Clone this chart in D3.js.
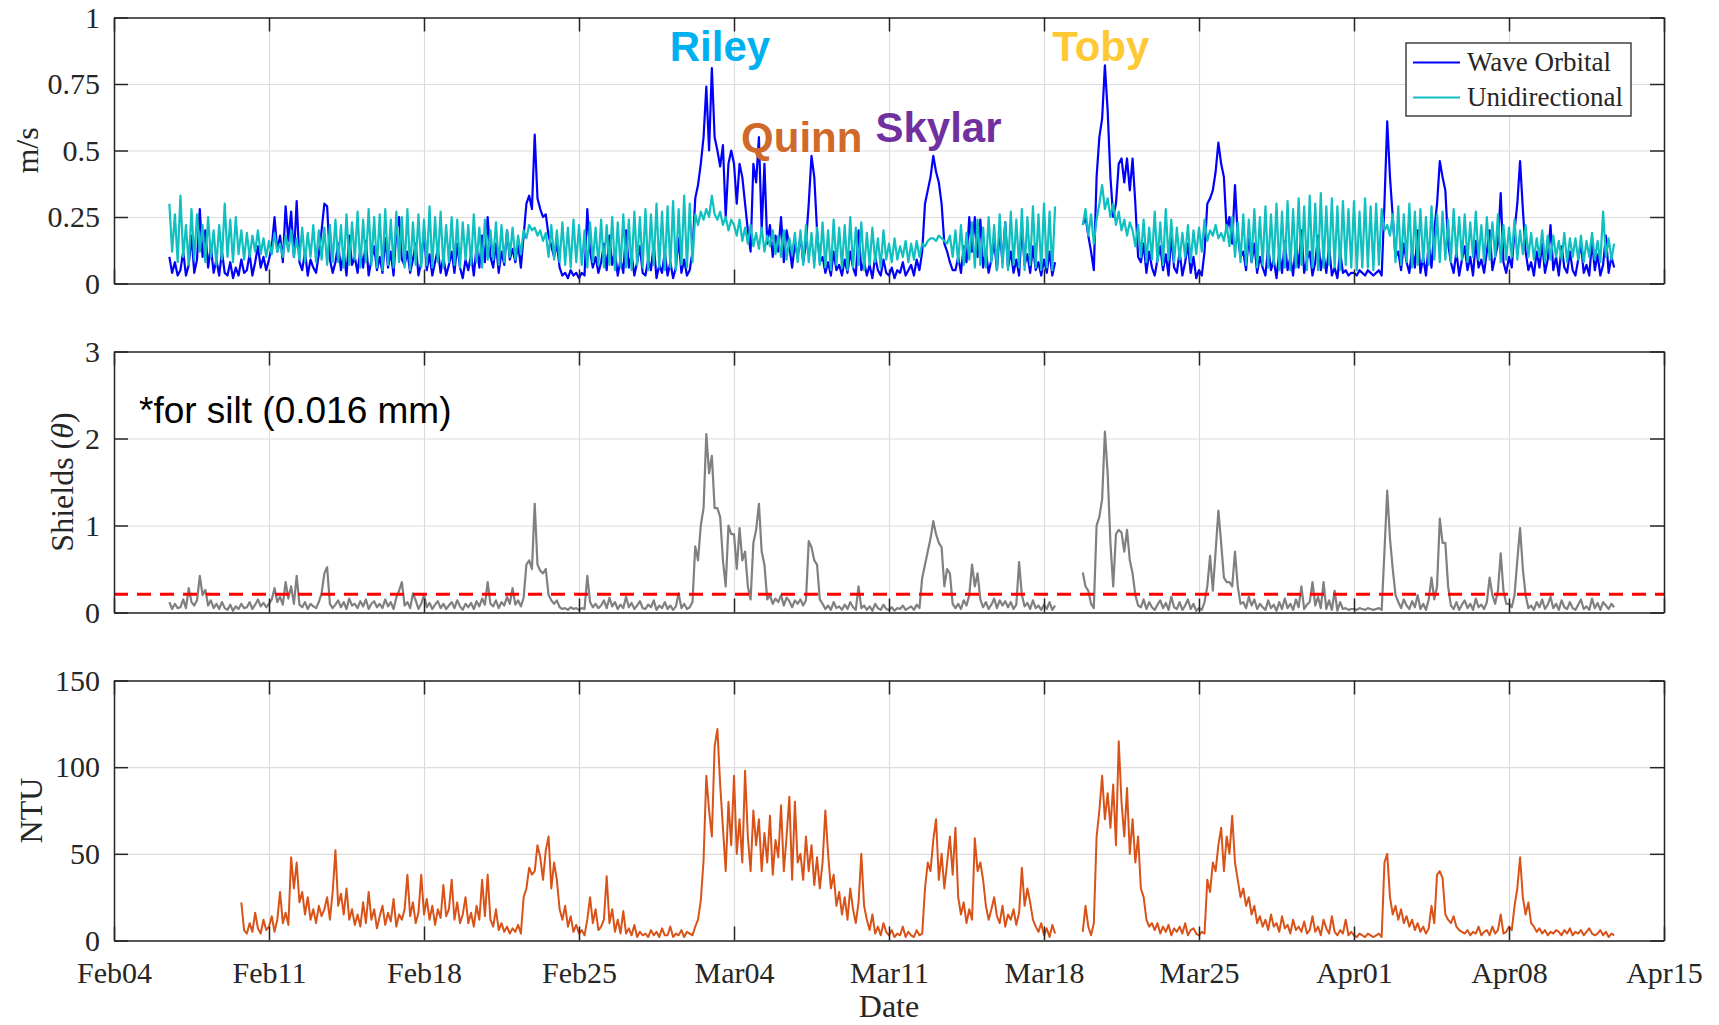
<!DOCTYPE html>
<html>
<head>
<meta charset="utf-8">
<script src="https://cdn.jsdelivr.net/npm/d3@7"></script>
<style>
  body { margin: 0; background: #fff; }
  svg text { font-family: "Liberation Serif", "Times New Roman", serif; fill: #262626; }
</style>
</head>
<body>
<script>
// ---------------- data ----------------
// all velocity / Shields series: 3-hourly samples, first one at Feb06 12:00 (2018)
// turbidity: 3-hourly samples, first one at Feb09 18:00
// one row per day, null = logger gap

// wave orbital velocity, cm/s
const waveOrbital = [
  10,4,8,3,
  5,12,3,7,18,4,9,28,
  10,20,6,14,4,9,3,12,
  4,3,8,2,6,3,9,4,
  5,11,3,8,14,6,10,5,
  9,14,25,12,18,8,29,16,
  27,10,31,8,5,12,3,9,
  6,4,11,20,30,29,9,4,
  8,15,5,12,3,18,7,10,
  4,13,6,16,3,9,14,5,
  10,4,17,6,12,3,20,25,
  9,7,12,4,9,15,3,8,
  20,5,11,3,8,13,4,10,
  3,7,12,4,15,6,2,9,
  5,11,3,14,6,18,8,25,
  10,6,15,4,12,7,20,9,
  13,8,15,6,18,30,33,28,
  56,32,28,25,26,18,14,10,
  15,6,3,4,2,5,3,4,
  2,4,3,28,12,6,10,4,
  8,15,5,18,7,12,3,9,
  4,20,6,11,3,8,14,4,
  3,9,5,15,2,7,4,12,
  3,8,2,6,17,4,9,3,
  5,12,32,37,45,55,74,50,
  81,55,50,44,52,25,45,50,
  45,30,45,40,30,20,12,45,
  38,55,20,45,15,22,10,18,
  12,25,8,20,14,6,15,10,
  18,8,15,30,48,40,20,8,
  10,4,8,3,12,5,7,3,
  9,4,12,6,3,20,5,8,
  3,7,2,10,5,3,9,4,
  3,6,2,5,4,8,3,5,
  7,3,9,5,12,30,35,40,
  48,42,38,30,15,12,8,5,
  5,10,4,14,8,25,12,25,
  10,24,6,12,4,9,16,5,
  20,8,23,6,12,4,9,3,
  22,7,11,4,14,5,8,3,
  9,4,12,3,8,null,null,null,
  null,null,null,null,null,null,22,25,
  18,12,5,40,55,62,82,65,
  40,25,30,45,47,38,47,35,
  47,30,10,8,15,4,12,6,
  3,9,14,5,11,3,18,6,
  4,12,3,8,15,4,10,2,
  5,3,12,30,32,35,42,53,
  45,40,20,25,15,37,18,10,
  12,5,18,8,15,4,10,6,
  3,14,5,9,2,12,4,16,
  5,10,3,15,6,20,4,9,
  12,3,8,18,5,11,4,14,
  3,6,2,12,4,5,3,4,
  4,3,5,4,3,5,4,3,
  4,5,3,30,61,40,25,10,
  12,5,15,8,4,13,6,20,
  4,10,3,15,6,20,30,46,
  40,35,15,8,4,12,3,9,
  14,5,10,3,16,6,9,4,
  12,20,5,10,15,34,8,4,
  10,6,20,30,46,28,12,5,
  8,3,12,6,15,4,9,22,
  5,10,3,14,6,4,12,5,
  3,9,15,4,7,3,16,5,
  11,3,7,18,4,10,6
];

// unidirectional (current) velocity, cm/s
const unidirectional = [
  30,12,26,8,
  33,10,22,7,28,9,26,12,
  22,8,25,10,20,7,22,9,
  30,10,24,8,25,11,20,9,
  19,10,18,12,20,11,17,10,
  16,11,19,12,15,10,18,12,
  20,10,17,9,21,8,19,10,
  22,8,20,9,21,7,22,8,
  24,8,22,6,26,7,23,9,
  27,6,24,8,28,7,25,6,
  26,5,28,7,24,6,27,8,
  25,6,28,5,23,7,26,6,
  24,7,29,6,25,8,27,6,
  22,8,25,7,24,6,23,9,
  22,7,26,8,21,6,24,9,
  20,9,23,7,22,8,20,10,
  21,9,18,11,20,17,22,20,
  21,18,20,16,19,10,22,9,
  20,8,23,7,21,6,24,8,
  22,7,20,6,23,8,21,7,
  24,6,22,7,25,5,23,6,
  26,6,24,5,27,7,25,6,
  28,5,26,7,30,6,27,5,
  29,6,31,5,28,7,33,6,
  30,8,26,22,27,24,28,25,
  33,26,24,27,22,25,20,24,
  22,18,24,16,21,15,22,14,
  19,13,21,12,18,14,20,11,
  18,10,20,9,17,11,19,8,
  20,7,22,8,19,6,21,7,
  23,6,20,5,24,7,21,6,
  22,5,25,6,21,7,23,5,
  19,7,21,8,17,6,20,9,
  15,8,17,9,14,10,16,8,
  15,9,16,10,15,14,16,17,
  17,16,18,17,16,15,18,10,
  20,8,22,7,19,9,23,6,
  24,7,21,6,25,8,22,5,
  26,6,23,5,27,7,24,6,
  28,5,25,7,29,6,26,5,
  30,6,27,5,29,null,null,null,
  null,null,null,null,null,null,22,28,
  18,26,15,24,30,37,28,32,
  25,30,22,27,20,24,18,23,
  20,14,22,10,24,8,21,9,
  27,8,23,7,28,9,24,8,
  21,9,19,10,22,8,20,11,
  21,12,24,16,20,18,22,17,
  19,16,22,14,25,10,23,8,
  26,7,24,8,28,6,25,7,
  29,6,26,7,30,5,27,6,
  31,5,28,6,32,7,29,5,
  33,6,30,5,34,6,29,7,
  32,6,29,5,31,7,28,6,
  31,5,27,6,32,6,29,5,
  30,7,28,20,22,18,26,8,
  29,7,26,8,30,6,27,7,
  28,8,25,7,29,9,26,8,
  27,9,24,8,28,10,25,9,
  26,8,23,10,27,9,22,8,
  25,9,23,10,26,8,22,9,
  21,10,24,9,20,11,22,10,
  19,9,17,10,20,8,18,9,
  18,10,16,9,19,8,17,10,
  17,9,18,8,16,10,19,9,
  16,8,27,10,17,9,15
];

// Shields parameter (theta), silt 0.016 mm
const shields = [
  0.12,0.04,0.10,0.05,
  0.06,0.15,0.05,0.28,0.12,0.08,0.14,0.42,
  0.20,0.26,0.08,0.14,0.05,0.10,0.04,0.12,
  0.05,0.03,0.09,0.02,0.07,0.04,0.10,0.05,
  0.06,0.12,0.04,0.09,0.15,0.07,0.11,0.06,
  0.10,0.15,0.28,0.12,0.18,0.09,0.35,0.16,
  0.30,0.10,0.42,0.09,0.06,0.12,0.04,0.10,
  0.07,0.05,0.12,0.22,0.45,0.52,0.10,0.05,
  0.09,0.14,0.06,0.12,0.04,0.16,0.08,0.10,
  0.05,0.13,0.07,0.15,0.04,0.10,0.13,0.06,
  0.10,0.05,0.15,0.07,0.12,0.04,0.17,0.25,
  0.35,0.08,0.12,0.05,0.22,0.14,0.04,0.10,
  0.20,0.06,0.11,0.04,0.09,0.13,0.05,0.10,
  0.04,0.08,0.12,0.05,0.14,0.07,0.03,0.10,
  0.06,0.11,0.04,0.13,0.07,0.16,0.09,0.35,
  0.10,0.07,0.14,0.05,0.12,0.08,0.18,0.10,
  0.28,0.09,0.14,0.07,0.17,0.55,0.60,0.50,
  1.25,0.55,0.48,0.45,0.50,0.20,0.14,0.10,
  0.14,0.06,0.04,0.05,0.03,0.06,0.04,0.05,
  0.03,0.05,0.04,0.42,0.12,0.06,0.10,0.05,
  0.08,0.14,0.05,0.17,0.07,0.12,0.04,0.09,
  0.05,0.18,0.06,0.11,0.04,0.08,0.13,0.05,
  0.04,0.09,0.06,0.14,0.03,0.08,0.05,0.12,
  0.04,0.08,0.03,0.07,0.22,0.05,0.10,0.04,
  0.06,0.12,0.76,0.60,1.00,1.20,2.05,1.60,
  1.80,1.20,1.20,1.10,0.60,0.30,1.00,0.90,
  0.90,0.50,0.97,0.60,0.70,0.30,0.15,0.80,
  0.95,1.25,0.70,0.55,0.15,0.20,0.10,0.16,
  0.12,0.20,0.08,0.17,0.13,0.06,0.14,0.10,
  0.15,0.08,0.14,0.82,0.75,0.60,0.55,0.15,
  0.10,0.04,0.08,0.03,0.12,0.05,0.07,0.03,
  0.09,0.04,0.12,0.06,0.03,0.30,0.05,0.08,
  0.03,0.07,0.02,0.10,0.05,0.03,0.09,0.04,
  0.03,0.06,0.02,0.05,0.04,0.08,0.03,0.05,
  0.07,0.03,0.09,0.05,0.40,0.55,0.70,0.85,
  1.05,0.90,0.80,0.75,0.30,0.50,0.45,0.10,
  0.05,0.10,0.04,0.14,0.08,0.20,0.55,0.30,
  0.45,0.15,0.06,0.12,0.04,0.09,0.16,0.05,
  0.14,0.08,0.13,0.06,0.12,0.04,0.09,0.58,
  0.20,0.07,0.11,0.04,0.14,0.05,0.08,0.03,
  0.09,0.04,0.12,0.03,0.08,null,null,null,
  null,null,null,null,null,null,0.46,0.30,
  0.25,0.10,0.05,1.00,1.10,1.30,2.08,1.60,
  0.80,0.30,0.90,0.95,0.92,0.70,0.95,0.60,
  0.45,0.20,0.08,0.06,0.15,0.04,0.12,0.06,
  0.03,0.09,0.14,0.05,0.11,0.03,0.18,0.06,
  0.04,0.12,0.03,0.08,0.15,0.04,0.10,0.02,
  0.05,0.03,0.12,0.30,0.65,0.25,0.70,1.17,
  0.80,0.40,0.35,0.35,0.30,0.70,0.30,0.10,
  0.12,0.05,0.18,0.08,0.15,0.04,0.10,0.06,
  0.03,0.14,0.05,0.09,0.02,0.12,0.04,0.16,
  0.05,0.10,0.03,0.15,0.06,0.30,0.04,0.09,
  0.12,0.35,0.08,0.18,0.05,0.35,0.04,0.14,
  0.03,0.25,0.02,0.12,0.04,0.05,0.03,0.04,
  0.04,0.03,0.05,0.04,0.03,0.05,0.04,0.03,
  0.04,0.05,0.03,0.70,1.40,0.85,0.50,0.20,
  0.12,0.05,0.15,0.08,0.04,0.13,0.06,0.20,
  0.04,0.10,0.03,0.15,0.40,0.15,0.30,1.08,
  0.80,0.80,0.30,0.08,0.04,0.12,0.03,0.09,
  0.14,0.05,0.10,0.03,0.16,0.06,0.09,0.04,
  0.12,0.40,0.20,0.10,0.25,0.68,0.25,0.10,
  0.10,0.06,0.20,0.60,0.97,0.50,0.20,0.05,
  0.08,0.03,0.12,0.06,0.15,0.04,0.09,0.18,
  0.05,0.10,0.03,0.14,0.06,0.04,0.12,0.05,
  0.03,0.09,0.15,0.04,0.07,0.03,0.16,0.05,
  0.11,0.03,0.12,0.08,0.04,0.10,0.06
];

// turbidity, NTU
const turbidity = [
  22,6,
  4,10,5,16,7,4,12,6,
  8,14,5,12,28,10,16,9,
  48,30,45,22,28,15,25,12,
  18,10,20,14,18,25,12,28,
  52,20,27,15,30,12,18,9,
  15,8,22,10,28,12,18,7,
  14,20,9,16,11,24,8,15,
  12,18,38,14,22,10,16,38,
  15,24,12,20,9,18,13,32,
  14,18,35,12,22,10,15,25,
  10,16,8,20,12,35,14,38,
  12,8,18,6,10,5,8,4,
  7,5,9,4,25,30,42,38,
  40,55,48,35,52,60,30,45,
  35,18,12,20,8,14,5,9,
  4,6,3,12,25,10,18,6,
  8,12,37,10,18,5,12,4,
  17,4,7,3,9,2,5,3,
  4,2,6,3,5,2,7,3,
  3,8,2,4,3,6,2,5,
  4,3,8,12,23,46,95,75,
  60,112,122,90,65,40,80,55,
  95,50,70,45,98,60,40,75,
  55,70,40,62,45,72,38,58,
  48,78,40,60,83,35,80,45,
  50,35,60,40,55,32,48,30,
  45,75,50,30,38,20,28,15,
  25,12,30,18,10,22,50,20,
  12,6,15,4,8,3,10,5,
  3,6,2,4,3,8,2,5,
  3,2,6,3,4,30,45,40,
  58,70,35,50,30,45,60,38,
  65,25,15,22,10,18,12,59,
  40,45,35,20,12,18,25,14,
  10,20,8,15,12,18,9,16,
  42,20,30,22,12,8,5,10,
  3,7,2,9,4,null,null,null,
  null,null,null,null,null,null,5,20,
  8,3,10,60,75,95,70,85,
  65,90,55,115,80,60,88,50,
  70,45,60,30,25,12,8,10,
  6,10,4,8,5,9,3,7,
  5,8,4,10,3,6,7,4,
  3,5,4,35,28,45,40,55,
  65,40,60,50,72,45,35,25,
  30,20,25,15,20,10,14,8,
  12,6,15,8,10,5,14,7,
  9,4,12,6,8,5,11,4,
  6,14,5,8,3,12,7,4,
  14,5,3,6,4,12,3,5,
  3,2,4,3,2,4,3,2,
  3,4,2,45,50,25,15,20,
  12,18,10,14,8,12,6,10,
  5,8,4,7,20,10,38,40,
  36,15,12,10,14,8,6,5,
  4,6,3,5,4,8,3,5,
  6,3,8,4,6,15,4,5,
  8,6,20,30,48,25,15,22,
  10,8,5,7,4,6,3,5,
  4,6,5,3,6,4,7,3,
  5,4,6,3,5,7,4,3,
  4,6,3,5,2,4,3
];

const tickDates = ["2018-02-04", "2018-02-11", "2018-02-18", "2018-02-25", "2018-03-04", "2018-03-11",
                   "2018-03-18", "2018-03-25", "2018-04-01", "2018-04-08", "2018-04-15"];
const speedTicks = [0, 0.25, 0.5, 0.75, 1];
const shieldsTicks = [0, 1, 2, 3];
const ntuTicks = [0, 50, 100, 150];
const shieldsThreshold = 0.21;

// storm names, anchored at (date, m/s) on the top panel
const storms = [
  { name: "Riley",  date: "2018-03-01T02:20Z", level: 0.836 },
  { name: "Quinn",  date: "2018-03-04T07:40Z", level: 0.494 },
  { name: "Skylar", date: "2018-03-10T09:20Z", level: 0.533 },
  { name: "Toby",   date: "2018-03-18T08:50Z", level: 0.836 }
];
const stormColors = { Riley: "#00B0F0", Quinn: "#CF6A2B", Skylar: "#7030A0", Toby: "#FFC935" };

// ---------------- layout ----------------
const W = 1719, H = 1025;
const plotLeft = 114, plotRight = 1664;
const panels = {
  speed:   { top: 17.5,  bottom: 283.5 },
  shields: { top: 351.5, bottom: 612.5 },
  ntu:     { top: 680.5, bottom: 940.5 }
};
const STEP = 3 * 3600 * 1000;
const speedStart = Date.UTC(2018, 1, 6, 12);
const ntuStart = Date.UTC(2018, 1, 9, 18);

const svg = d3.select("body").append("svg")
  .attr("width", W)
  .attr("height", H);

const x = d3.scaleUtc()
  .domain([new Date(tickDates[0]), new Date(tickDates[tickDates.length - 1])])
  .range([plotLeft, plotRight]);

const ticksX = tickDates.map(d => new Date(d));

function toPoints(values, start, scale) {
  return values.map((v, i) => ({ t: new Date(start + i * STEP), v: v == null ? null : v * scale }));
}

function drawPanel(p, yDomain, yTicks, label) {
  const h = p.bottom - p.top;
  const y = d3.scaleLinear().domain(yDomain).range([p.bottom, p.top]);
  const g = svg.append("g");

  // grid
  g.append("g")
    .attr("transform", `translate(0,${p.bottom})`)
    .call(d3.axisBottom(x).tickValues(ticksX).tickSize(-h).tickFormat(""))
    .call(s => s.select(".domain").remove())
    .selectAll("line").attr("stroke", "#dcdcdc").attr("stroke-width", 1.2);
  g.append("g")
    .attr("transform", `translate(${plotLeft},0)`)
    .call(d3.axisLeft(y).tickValues(yTicks).tickSize(-(plotRight - plotLeft)).tickFormat(""))
    .call(s => s.select(".domain").remove())
    .selectAll("line").attr("stroke", "#dcdcdc").attr("stroke-width", 1.2);

  const yLabel = svg.append("text")
    .attr("transform", `translate(${label.x},${(p.top + p.bottom) / 2}) rotate(-90)`)
    .attr("text-anchor", "middle")
    .attr("dy", "0.35em")
    .style("font-size", "32px")
    .text(label.text);

  return { g, y, ticks: yTicks, label: yLabel };
}

function drawBox(panel, p, showXLabels) {
  const y = panel.y;
  const layer = svg.append("g");
  const style = s => {
    s.selectAll("line").attr("stroke", "#262626").attr("stroke-width", 1.5);
    s.select(".domain").attr("stroke", "#262626").attr("stroke-width", 1.5);
    s.selectAll("text").style("font-size", "30px").attr("fill", "#262626");
  };
  layer.append("g")
    .attr("transform", `translate(0,${p.bottom})`)
    .call(d3.axisBottom(x).tickValues(ticksX).tickSize(-14).tickSizeOuter(0).tickPadding(21)
      .tickFormat(showXLabels ? d3.utcFormat("%b%d") : ""))
    .call(style);
  layer.append("g")
    .attr("transform", `translate(0,${p.top})`)
    .call(d3.axisTop(x).tickValues(ticksX).tickSize(-14).tickSizeOuter(0).tickFormat(""))
    .call(style);
  layer.append("g")
    .attr("transform", `translate(${plotLeft},0)`)
    .call(d3.axisLeft(y).tickValues(panel.ticks).tickSize(-14).tickSizeOuter(0).tickPadding(14)
      .tickFormat(d => String(d)))
    .call(style);
  layer.append("g")
    .attr("transform", `translate(${plotRight},0)`)
    .call(d3.axisRight(y).tickValues(panel.ticks).tickSize(-14).tickSizeOuter(0).tickFormat(""))
    .call(style);
  layer.selectAll("g").attr("font-family", null);
}

function drawLine(panel, points, color, width) {
  const line = d3.line()
    .defined(d => d.v != null)
    .x(d => x(d.t))
    .y(d => panel.y(d.v));
  panel.g.append("path")
    .datum(points)
    .attr("fill", "none")
    .attr("stroke", color)
    .attr("stroke-width", width)
    .attr("stroke-linejoin", "round")
    .attr("d", line);
}

// ---- top panel: velocities ----
const speedPanel = drawPanel(panels.speed, [0, 1], speedTicks, { x: 27, text: "m/s" });
drawLine(speedPanel, toPoints(waveOrbital, speedStart, 0.01), "#0000FF", 2.2);
drawLine(speedPanel, toPoints(unidirectional, speedStart, 0.01), "#10BFBF", 2.2);
drawBox(speedPanel, panels.speed, false);

storms.forEach(s => {
  svg.append("text")
    .attr("x", x(new Date(s.date)))
    .attr("y", speedPanel.y(s.level))
    .style("font-family", "'Liberation Sans', Arial, sans-serif")
    .style("font-weight", "bold")
    .style("font-size", "42px")
    .style("fill", stormColors[s.name])
    .text(s.name);
});

// legend
const legend = svg.append("g").attr("transform", "translate(1406,43)");
legend.append("rect")
  .attr("width", 225).attr("height", 73)
  .attr("fill", "#fff").attr("stroke", "#262626").attr("stroke-width", 1.3);
[["Wave Orbital", "#0000FF"], ["Unidirectional", "#10BFBF"]].forEach(([name, color], i) => {
  legend.append("line")
    .attr("x1", 7).attr("x2", 54)
    .attr("y1", 19.5 + i * 35).attr("y2", 19.5 + i * 35)
    .attr("stroke", color).attr("stroke-width", 2);
  legend.append("text")
    .attr("x", 61).attr("y", 19.5 + i * 35).attr("dy", "0.33em")
    .style("font-size", "27px")
    .text(name);
});

// ---- middle panel: Shields ----
const shieldsPanel = drawPanel(panels.shields, [0, 3], shieldsTicks, { x: 62, text: "" });
shieldsPanel.label.text("Shields (");
shieldsPanel.label.append("tspan").style("font-style", "italic").text("θ");
shieldsPanel.label.append("tspan").text(")");
drawLine(shieldsPanel, toPoints(shields, speedStart, 1), "#808080", 2.2);
shieldsPanel.g.append("line")
  .attr("x1", plotLeft).attr("x2", plotRight)
  .attr("y1", shieldsPanel.y(shieldsThreshold)).attr("y2", shieldsPanel.y(shieldsThreshold))
  .attr("stroke", "#FF0000").attr("stroke-width", 3)
  .attr("stroke-dasharray", "14,9");
drawBox(shieldsPanel, panels.shields, false);

svg.append("text")
  .attr("x", 139).attr("y", 423)
  .style("font-family", "'Liberation Sans', Arial, sans-serif")
  .style("font-size", "37px")
  .style("fill", "#000")
  .text("*for silt (0.016 mm)");

// ---- bottom panel: turbidity ----
const ntuPanel = drawPanel(panels.ntu, [0, 150], ntuTicks, { x: 31, text: "NTU" });
drawLine(ntuPanel, toPoints(turbidity, ntuStart, 1), "#D95319", 2);
drawBox(ntuPanel, panels.ntu, true);

svg.append("text")
  .attr("x", (plotLeft + plotRight) / 2)
  .attr("y", 1017)
  .attr("text-anchor", "middle")
  .style("font-size", "32px")
  .text("Date");
</script>
</body>
</html>
